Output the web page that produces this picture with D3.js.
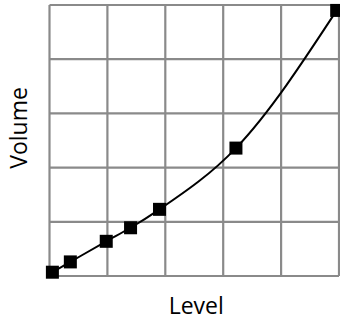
<!DOCTYPE html>
<html>
<head>
<meta charset="utf-8">
<script src="https://cdn.jsdelivr.net/npm/d3@7"></script>
<style>
  body { margin: 0; background: #fff; }
  .etiqueta { font-family: 'Open Sans', sans-serif; font-size: 23px; fill: #000; }
</style>
</head>
<body>
<div id="graf"></div>
<script>
// datos
level = [0.05, 0.36, 0.98, 1.40, 1.90, 3.22, 4.96]
volume = [0.07, 0.26, 0.64, 0.89, 1.23, 2.36, 4.90]
gridX = [0, 1, 2, 3, 4, 5]
gridY = [0, 1, 2, 3, 4, 5]

ancho_total = 340
alto_total = 321
margins = { top: 5, left: 49.5, right: 1, bottom: 45 }
ancho = ancho_total - margins.left - margins.right
alto = alto_total - margins.top - margins.bottom

svg = d3.select('#graf').append('svg')
        .attr('width', ancho_total)
        .attr('height', alto_total)

g = svg.append('g')
        .attr('transform', `translate(${ margins.left }, ${ margins.top })`)

x = d3.scaleLinear().domain([0, 5]).range([0, ancho])
y = d3.scaleLinear().domain([0, 5]).range([alto, 0])

// rejilla
g.selectAll('.vx').data(gridX).enter().append('line')
    .attr('x1', d => x(d)).attr('x2', d => x(d))
    .attr('y1', 0).attr('y2', alto)
    .attr('stroke', '#8a8a8a').attr('stroke-width', 2.2)

g.selectAll('.hy').data(gridY).enter().append('line')
    .attr('y1', d => y(d)).attr('y2', d => y(d))
    .attr('x1', 0).attr('x2', ancho)
    .attr('stroke', '#8a8a8a').attr('stroke-width', 2.2)

datos = level.map((d, i) => ({ level: d, volume: volume[i] }))

linea = d3.line()
    .x(d => x(d.level))
    .y(d => y(d.volume))
    .curve(d3.curveMonotoneX)

g.append('path')
    .datum(datos)
    .attr('d', linea)
    .attr('fill', 'none')
    .attr('stroke', '#000')
    .attr('stroke-width', 2)

lado = 13
g.selectAll('rect.punto').data(datos).enter().append('rect')
    .attr('class', 'punto')
    .attr('x', d => x(d.level) - lado / 2)
    .attr('y', d => y(d.volume) - lado / 2)
    .attr('width', lado)
    .attr('height', lado)
    .attr('fill', '#000')

svg.append('text')
    .attr('class', 'etiqueta')
    .attr('x', margins.left + ancho / 2 + 2)
    .attr('y', 314)
    .attr('text-anchor', 'middle')
    .text('Level')

svg.append('text')
    .attr('class', 'etiqueta')
    .attr('transform', `translate(27, 128) rotate(-90)`)
    .attr('text-anchor', 'middle')
    .text('Volume')
</script>
</body>
</html>
